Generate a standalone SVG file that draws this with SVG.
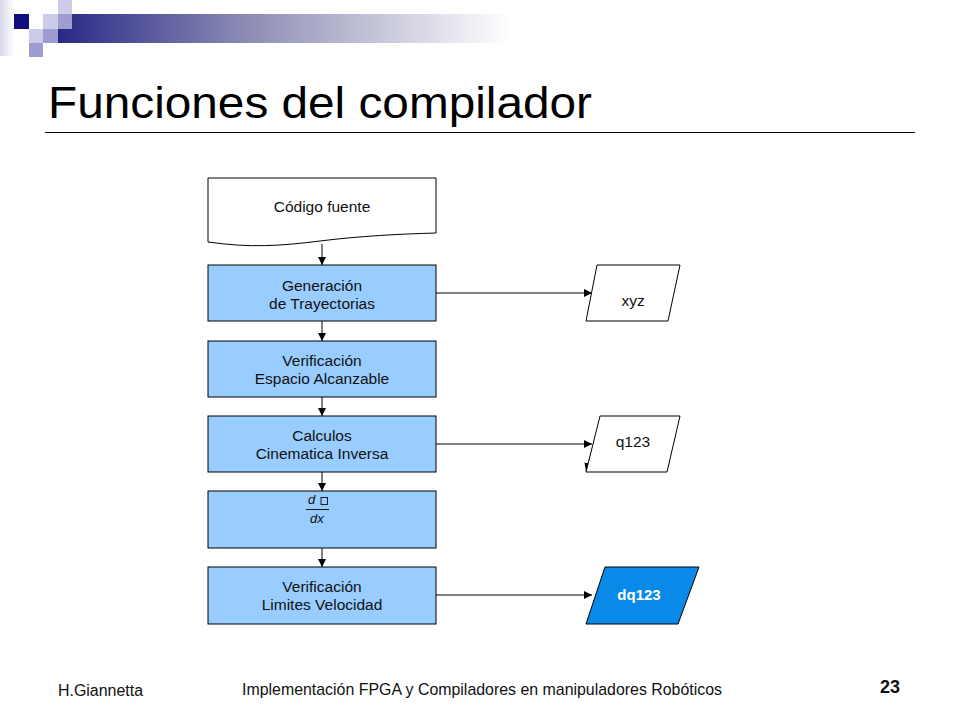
<svg xmlns="http://www.w3.org/2000/svg" width="960" height="720" viewBox="0 0 960 720">
<defs>
<linearGradient id="bar" x1="0" y1="0" x2="1" y2="0">
<stop offset="0" stop-color="#1a1a7e"/>
<stop offset="0.45" stop-color="#8c8cb4"/>
<stop offset="1" stop-color="#ffffff"/>
</linearGradient>
<linearGradient id="strip" x1="0" y1="0" x2="1" y2="0">
<stop offset="0" stop-color="#d8d8ea"/>
<stop offset="1" stop-color="#ffffff"/>
</linearGradient>
<marker id="ah" viewBox="0 0 10 10" refX="10" refY="5" markerWidth="8" markerHeight="8" markerUnits="userSpaceOnUse" orient="auto">
<path d="M0,0 L10,5 L0,10 z" fill="#000"/>
</marker>
<style>
.box{fill:#99ccff;stroke:#000;stroke-width:1}
.wbox{fill:#fff;stroke:#000;stroke-width:1}
.t{font-family:"Liberation Sans",Arial,sans-serif;font-size:15.5px;fill:#111;text-anchor:middle}
.c{stroke:#000;stroke-width:1;fill:none}
.foot{font-family:"Liberation Sans",Arial,sans-serif;fill:#111}
</style>
</defs>
<rect width="960" height="720" fill="#fff"/>
<!-- header decoration -->
<rect x="0" y="0" width="14" height="56" fill="url(#strip)"/>
<rect x="30" y="14" width="480" height="29" fill="url(#bar)"/>
<rect x="14" y="14" width="15" height="15" fill="#0f0f80"/>
<rect x="29" y="14" width="14" height="15" fill="#ffffff"/>
<rect x="43" y="14" width="15" height="15" fill="#ccccea"/>
<rect x="58" y="0" width="14" height="14" fill="#ccccea"/>
<rect x="58" y="14" width="14" height="15" fill="#9d9dd0"/>
<rect x="29" y="29" width="14" height="14" fill="#ccccea"/>
<rect x="43" y="29" width="15" height="14" fill="#9d9dd0"/>
<rect x="29" y="43" width="14" height="14" fill="#9d9dd0"/>
<!-- title -->
<text x="48" y="118" font-family="'Liberation Sans',Arial,sans-serif" font-size="44" fill="#000" textLength="544" lengthAdjust="spacingAndGlyphs">Funciones del compilador</text>
<line x1="45" y1="132.5" x2="915" y2="132.5" stroke="#000" stroke-width="1"/>
<!-- connectors -->
<g id="connectors">
<line class="c" x1="322" y1="244" x2="322" y2="265" marker-end="url(#ah)"/>
<line class="c" x1="322" y1="321" x2="322" y2="341" marker-end="url(#ah)"/>
<line class="c" x1="322" y1="397" x2="322" y2="416" marker-end="url(#ah)"/>
<line class="c" x1="322" y1="472" x2="322" y2="491" marker-end="url(#ah)"/>
<line class="c" x1="322" y1="548" x2="322" y2="567" marker-end="url(#ah)"/>
<line class="c" x1="436" y1="293" x2="592" y2="293" marker-end="url(#ah)"/>
<line class="c" x1="436" y1="444" x2="592" y2="444" marker-end="url(#ah)"/>
<line class="c" x1="436" y1="595" x2="592" y2="595" marker-end="url(#ah)"/>
<line class="c" x1="598" y1="430" x2="586" y2="471" marker-end="url(#ah)"/>
</g>
<!-- nodes -->
<g id="codigo">
<path class="wbox" d="M208,178 L436,178 L436,233 C400,234 360,236 320,241 C280,246 250,248 208,242 Z"/>
<text class="t" x="322" y="212">Código fuente</text>
</g>
<g id="generacion">
<rect class="box" x="208" y="265" width="228" height="56"/>
<text class="t" x="322" y="290.5">Generación</text>
<text class="t" x="322" y="308.5">de Trayectorias</text>
</g>
<g id="verificacion1">
<rect class="box" x="208" y="341" width="228" height="56"/>
<text class="t" x="322" y="366">Verificación</text>
<text class="t" x="322" y="384">Espacio Alcanzable</text>
</g>
<g id="calculos">
<rect class="box" x="208" y="416" width="228" height="56"/>
<text class="t" x="322" y="441">Calculos</text>
<text class="t" x="322" y="459">Cinematica Inversa</text>
</g>
<g id="derivada">
<rect class="box" x="208" y="491" width="228" height="57"/>
<text x="308" y="504" font-family="'Liberation Sans',Arial,sans-serif" font-size="13" font-style="italic" fill="#111">d</text>
<rect x="321" y="497.5" width="6.5" height="7" fill="none" stroke="#111" stroke-width="0.9"/>
<line x1="306" y1="509.5" x2="329" y2="509.5" stroke="#111" stroke-width="1"/>
<text x="310" y="523" font-family="'Liberation Sans',Arial,sans-serif" font-size="13" font-style="italic" fill="#111">dx</text>
</g>
<g id="verificacion2">
<rect class="box" x="208" y="567" width="228" height="57"/>
<text class="t" x="322" y="592">Verificación</text>
<text class="t" x="322" y="610">Limites Velocidad</text>
</g>
<g id="xyz">
<polygon class="wbox" points="597,265 680,265 668,321 586,321"/>
<text class="t" x="633" y="306">xyz</text>
</g>
<g id="q123">
<polygon class="wbox" points="600,416 680,416 667,472 586,472"/>
<text class="t" x="633" y="447">q123</text>
</g>
<g id="dq123">
<polygon points="605,567 699,567 678,624 586,624" fill="#0a8ae8" stroke="#000" stroke-width="1"/>
<text x="639" y="600" font-family="'Liberation Sans',Arial,sans-serif" font-size="15" font-weight="bold" fill="#fff" text-anchor="middle">dq123</text>
</g>
<!-- footer -->
<text class="foot" x="58" y="696" font-size="16" textLength="85" lengthAdjust="spacingAndGlyphs">H.Giannetta</text>
<text class="foot" x="242" y="695" font-size="17" textLength="480" lengthAdjust="spacingAndGlyphs">Implementación FPGA y Compiladores en manipuladores Robóticos</text>
<text class="foot" x="880" y="693" font-size="18" font-weight="bold">23</text>
</svg>
